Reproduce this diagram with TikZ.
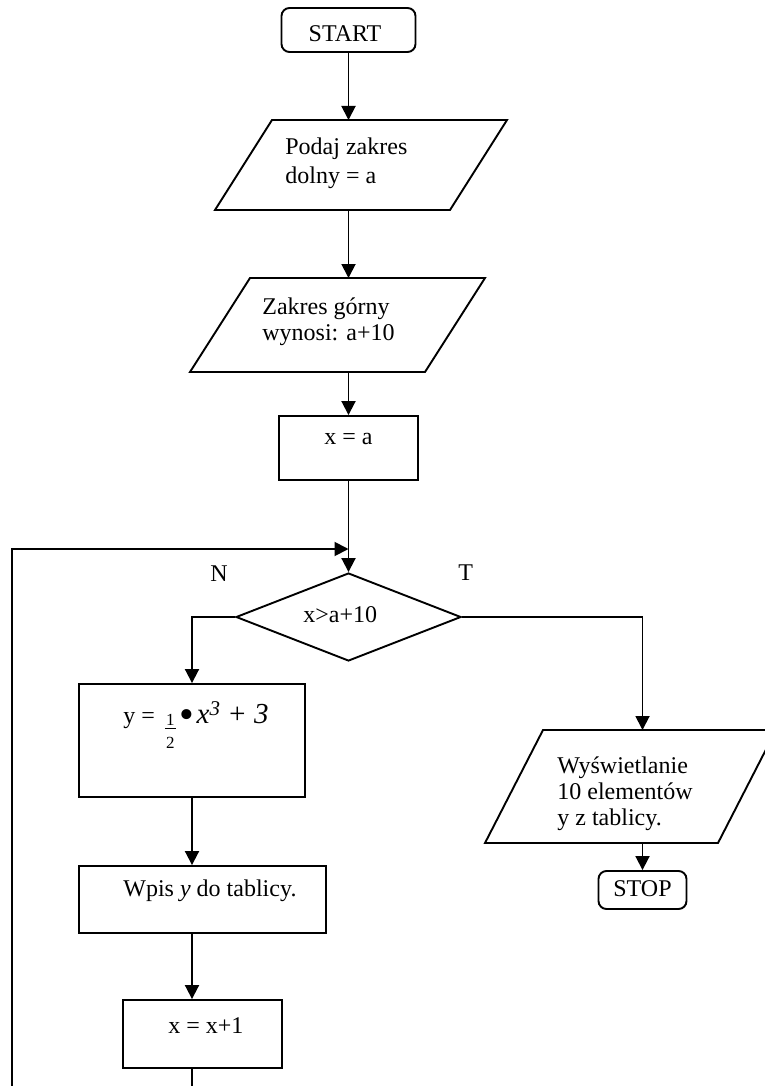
\documentclass[tikz,border=0pt]{standalone}
\usepackage{fontspec}
\setmainfont{Liberation Serif}
\usetikzlibrary{arrows.meta,shapes.geometric,calc}
% one drawing unit = 0.5pt
\newdimen\pxu \pxu=0.5pt
% a small stacked fraction 1/2
\newcommand\halfstack{%
  \makebox[5.5pt]{\raisebox{-1pt}{\fontsize{8.5}{9}\selectfont 1}}%
  \hspace{-5.5pt}\raisebox{-3pt}{\rule{5.5pt}{0.45pt}}%
  \hspace{-5.5pt}\makebox[5.5pt]{\raisebox{-12.5pt}{\fontsize{8.5}{9}\selectfont 2}}}
\tikzset{
  flow/.style={line width=0.95pt},
  arr/.style={flow,-{Triangle[length=7pt,width=7pt]}},
  procbox/.style={draw,flow,rectangle,inner sep=0pt},
  termbox/.style={draw,flow,rectangle,rounded corners=4pt,inner sep=0pt},
  zone/.style={inner sep=0pt,outer sep=0pt},
  lbl/.style={inner sep=0pt,font=\fontsize{12}{14}\selectfont,anchor=base west},
  lblc/.style={lbl,anchor=base},
}
\begin{document}
\begin{tikzpicture}[x=0.5pt,y=-0.5pt]
\useasboundingbox (0,0) rectangle (765,1086);
\clip (0,0) rectangle (765,1086);

% terminal START
\node[termbox,minimum width=134\pxu,minimum height=44\pxu] (start) at (348.5,30) {};
\node[lblc] (startT) at (345,42) {START};

% input: lower bound
\node[zone,minimum width=292\pxu,minimum height=90\pxu] (in1) at (361,165) {};
\draw[flow] (in1.south west) -- ($(in1.north west)+(57,0)$) -- (in1.north east)
  -- ($(in1.south east)-(57,0)$) -- cycle;
\node[lbl] (in1a) at (285,155) {Podaj zakres};
\node[lbl] (in1b) at (285,183) {dolny = a};

% output: upper bound
\node[zone,minimum width=295\pxu,minimum height=94\pxu] (in2) at (337.5,325) {};
\draw[flow] (in2.south west) -- ($(in2.north west)+(60,0)$) -- (in2.north east)
  -- ($(in2.south east)-(60,0)$) -- cycle;
\node[lbl] (in2a) at (262,314) {Zakres górny};
\node[lbl] (in2b) at (262,340) {wynosi: a+10};

% x = a
\node[procbox,minimum width=139\pxu,minimum height=64\pxu] (xa) at (348.5,448) {};
\node[lblc] (xaT) at (348.5,444) {x = a};

% decision
\node[draw,flow,diamond,inner sep=0pt,minimum width=225\pxu,minimum height=88\pxu] (dec) at (348.5,617) {};
\node[lbl] (decT) at (303,622) {x>a+10};
\node[lbl] (nT) at (210,581) {N};
\node[lbl] (tT) at (458,580) {T};

% formula box
\node[procbox,minimum width=226\pxu,minimum height=113\pxu] (fb) at (192,740.5) {};
\node[lbl] (fbT) at (123,723) {y =\hspace{5pt}\halfstack\hspace{2pt}\raisebox{-2.5pt}{\fontsize{21}{21}\selectfont\textbullet}\hspace{1pt}{\fontsize{14.5}{14.5}\selectfont\itshape x\raisebox{4pt}{\fontsize{10.5}{10.5}\selectfont 3} + 3}};

% store into the table
\node[procbox,minimum width=247\pxu,minimum height=67\pxu] (wb) at (202.5,899.5) {};
\node[lbl] (wbT) at (123,896) {Wpis \textit{y} do tablicy.};

% increment
\node[procbox,minimum width=159\pxu,minimum height=68\pxu] (xx1) at (202.5,1034) {};
\node[lbl] (xx1T) at (168,1033) {x = x+1};

% output of results
\node[zone,minimum width=291\pxu,minimum height=113\pxu] (out) at (630.5,786.5) {};
\draw[flow] (out.south west) -- ($(out.north west)+(58,0)$) -- (out.north east)
  -- ($(out.south east)-(58,0)$) -- cycle;
\node[lbl] (outa) at (557,773) {Wyświetlanie};
\node[lbl] (outb) at (557,799) {10 elementów};
\node[lbl] (outc) at (557,825) {y z tablicy.};

% terminal STOP
\node[termbox,minimum width=88\pxu,minimum height=38\pxu] (stop) at (642.5,890) {};
\node[lblc] (stopT) at (642.5,896) {STOP};

% connectors
\coordinate (join) at (348.5,549);
\coordinate (loopB) at (12,1110);
\draw[arr] (start.south) -- (start.south |- in1.north);
\draw[arr] (start.south |- in1.south) -- (start.south |- in2.north);
\draw[arr] (start.south |- in2.south) -- (xa.north);
\draw[arr] (xa.south) -- (dec.north);
\draw[arr] (dec.west) -| (fb.north);
\draw[arr] (fb.south) -- (fb.south |- wb.north);
\draw[arr] (fb.south |- wb.south) -- (fb.south |- xx1.north);
\draw[arr] (fb.south |- xx1.south) -- (fb.south |- loopB) -- (loopB) |- (join);
\draw[arr] (dec.east) -| (stop.north |- out.north);
\draw[arr] (stop.north |- out.south) -- (stop.north);
\end{tikzpicture}
\end{document}
